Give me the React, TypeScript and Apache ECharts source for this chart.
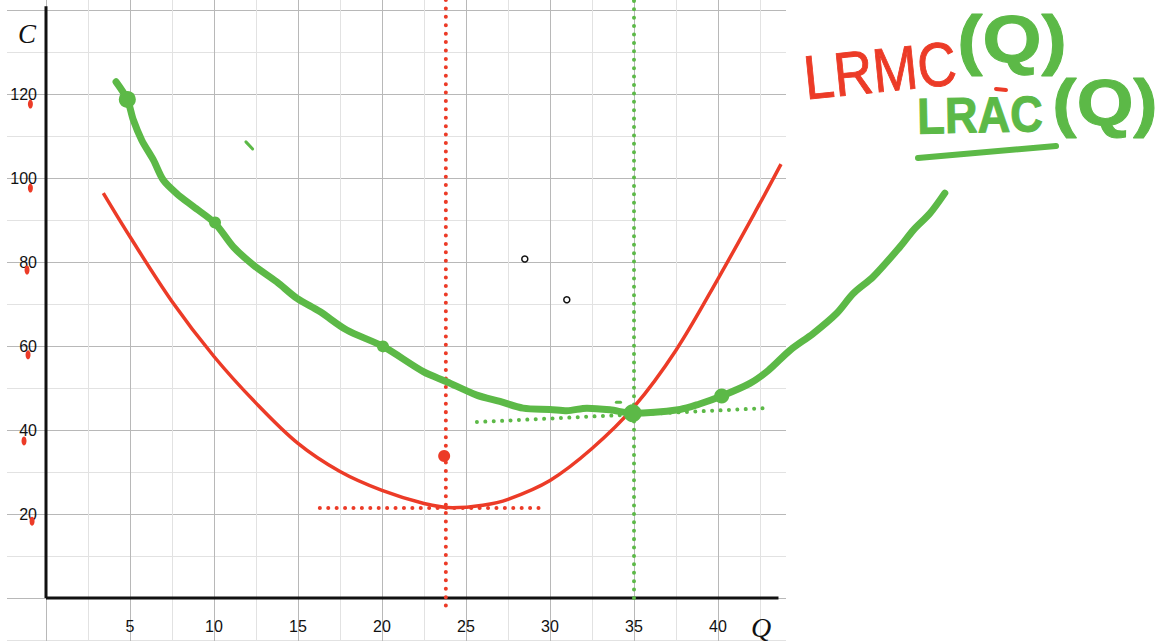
import React, { useEffect, useRef } from 'react';
import * as echarts from 'echarts';

const RED = '#ec3b27';
const GREEN = '#5cb947';

// tick labels
const xTickLabels = [5, 10, 15, 20, 25, 30, 35, 40];
const yTickLabels = [20, 40, 60, 80, 100, 120];

// LRMC(Q) – red curve (Q, C)
const lrmc = [
  [3.41, 96.4], [5, 86.0], [7.5, 70.6], [10, 57.5], [12.5, 46.4], [15, 36.8], [17.5, 30.1],
  [20, 25.6], [22.5, 22.5], [24.2, 21.5], [26, 22.1], [27.5, 23.5], [30, 28.0], [32.5, 35.6],
  [35, 45.5], [37.5, 59], [40, 76], [42.5, 94], [43.75, 103.3],
];

// LRAC(Q) – green hand-drawn curve (Q, C)
const lrac = [
  [4.17, 122.9], [4.84, 118.7], [5.2, 113.8], [5.7, 109], [6.39, 104.3], [6.98, 99.5],
  [7.78, 96.3], [8.77, 93.2], [10.06, 89.2], [11.15, 83.6], [12.34, 79.3], [13.73, 75.3],
  [14.92, 71.4], [16.3, 68.2], [17.9, 63.8], [20.06, 59.9], [22.46, 53.9], [23.85, 51.5],
  [25.64, 48.3], [27.02, 46.8], [28.4, 45.2], [30, 44.9], [31, 44.6], [32.2, 45.2],
  [33.57, 44.8], [34.92, 44], [37.74, 44.9], [38.9, 46.2], [40.22, 48.1], [41.9, 51.1],
  [43.0, 54.2], [44.29, 59], [45.67, 63], [47.07, 67.8], [48.05, 72.5], [49.24, 76.5],
  [50.83, 83.6], [51.63, 87.6], [52.62, 91.6], [53.5, 96.4],
];

// dots on LRAC: Q, C, size
const lracDots = [
  [4.84, 118.7, 17], [10.06, 89.4, 12], [20.06, 59.9, 12], [34.92, 44, 18], [40.22, 48.1, 15],
];
const lrmcDot = [[23.7, 33.8]];
const hollowPoints = [[28.5, 80.7], [31, 71]];
const redTickMarks = [
  [-0.93, 117.6], [-0.93, 97.6], [-1.13, 78.1], [-1.07, 57.9], [-1.31, 37.4], [-0.83, 18.3],
];

// dotted guides
const redVertical = [[23.8, -1.8], [23.8, 143]];
const redFloor = [[16.3, 21.4], [29.46, 21.4]];
const greenVertical = [[35, 0], [35, 143]];
const greenTangent = [[25.65, 41.9], [42.8, 45.2]];

// stray strokes
const greenTick = [[11.9, 108.6], [12.3, 106.9]];
const greenDash = [[33.95, 46.6], [34.2, 46.6]];

// axes lines
const xAxisLine = [[0, 0], [43.6, 0]];
const yAxisLine = [[0, 0], [0, 140.9]];

const dotted = (data: number[][], color: string) => ({
  type: 'line',
  data,
  showSymbol: false,
  silent: true,
  clip: false,
  z: 3,
  lineStyle: { color, width: 4, type: [0.01, 8.4], cap: 'round' },
});

export default function App() {
  const ref = useRef<HTMLDivElement>(null);
  useEffect(() => {
    if (!ref.current) return;
    const chart = echarts.init(ref.current, undefined, { renderer: 'svg' });
    const labelFont = { fontFamily: 'Liberation Sans', fontSize: 16, color: '#111' };
    const center = { align: 'center', verticalAlign: 'middle', textAlign: 'center', textVerticalAlign: 'middle' };
    chart.setOption({
      animation: false,
      backgroundColor: '#fff',
      grid: { left: -38, right: 190, top: -74, bottom: -41, containLabel: false, outerBoundsMode: 'none' },
      xAxis: [
        {
          type: 'value', min: -5, max: 55, interval: 5, position: 'top',
          axisLine: { show: false }, axisTick: { show: false }, axisLabel: { show: false },
          splitLine: { show: true, lineStyle: { color: '#b8b8b8', width: 1 } },
          minorTick: { show: false, splitNumber: 2 },
          minorSplitLine: { show: true, lineStyle: { color: '#e2e2e2', width: 1 } },
        },
        {
          type: 'value', min: -5, max: 55, interval: 5, position: 'bottom', offset: -82,
          axisLine: { show: false }, axisTick: { show: false }, splitLine: { show: false },
          axisLabel: {
            ...labelFont, margin: 18, hideOverlap: false,
            formatter: (v: number) => (xTickLabels.includes(v) ? String(v) : ''),
          },
        },
      ],
      yAxis: [
        {
          type: 'value', min: -20, max: 160, interval: 20, position: 'right',
          axisLine: { show: false }, axisTick: { show: false }, axisLabel: { show: false },
          splitLine: { show: true, lineStyle: { color: '#b8b8b8', width: 1 } },
          minorTick: { show: false, splitNumber: 2 },
          minorSplitLine: { show: true, lineStyle: { color: '#e2e2e2', width: 1 } },
        },
        {
          type: 'value', min: -20, max: 160, interval: 20, position: 'left', offset: -84,
          axisLine: { show: false }, axisTick: { show: false }, splitLine: { show: false },
          axisLabel: {
            ...labelFont, margin: 9, hideOverlap: false,
            formatter: (v: number) => (yTickLabels.includes(v) ? String(v) : ''),
          },
        },
      ],
      graphic: [
        { type: 'rect', z: 1, shape: { x: 786, y: 0, width: 380, height: 641 }, style: { fill: '#fff' }, silent: true },
        { type: 'rect', z: 1, shape: { x: 0, y: 0, width: 7, height: 641 }, style: { fill: '#fff' }, silent: true },
        {
          type: 'text', z: 10, x: 27, y: 34,
          style: { text: 'C', font: 'italic 27px "Liberation Serif"', fill: '#111', ...center },
        },
        {
          type: 'text', z: 10, x: 761, y: 627,
          style: { text: 'Q', font: 'italic 28px "Liberation Serif"', fill: '#111', ...center },
        },
        {
          type: 'text', z: 10, x: 880, y: 70, rotation: 0.1, scaleY: 1.15,
          style: { text: 'LRMC', font: '400 54px "Liberation Sans"', fill: RED, stroke: RED, lineWidth: 0.8, ...center },
        },
        {
          type: 'text', z: 10, x: 1012, y: 39, scaleX: 1.15,
          style: { text: '(Q)', font: 'bold 66px "Liberation Sans"', fill: GREEN, stroke: GREEN, lineWidth: 1, ...center },
        },
        {
          type: 'text', z: 10, x: 980, y: 115, scaleX: 1.13, scaleY: 1.26, rotation: 0.02,
          style: { text: 'LRAC', font: 'bold 40px "Liberation Sans"', fill: GREEN, stroke: GREEN, lineWidth: 0.8, ...center },
        },
        {
          type: 'text', z: 10, x: 1105, y: 103, scaleX: 1.14,
          style: { text: '(Q)', font: 'bold 64px "Liberation Sans"', fill: GREEN, stroke: GREEN, lineWidth: 1, ...center },
        },
        {
          type: 'line', z: 10, shape: { x1: 996, y1: 89, x2: 1006, y2: 90 },
          style: { stroke: RED, lineWidth: 4, lineCap: 'round' },
        },
        {
          type: 'line', z: 10, shape: { x1: 918, y1: 158, x2: 1056, y2: 146 },
          style: { stroke: GREEN, lineWidth: 6, lineCap: 'round' },
        },
      ],
      series: [
        {
          type: 'line', data: xAxisLine, showSymbol: false, silent: true, z: 2,
          lineStyle: { color: '#111', width: 3 },
        },
        {
          type: 'line', data: yAxisLine, showSymbol: false, silent: true, z: 2,
          lineStyle: { color: '#111', width: 3 },
        },
        dotted(redVertical, RED),
        dotted(redFloor, RED),
        dotted(greenVertical, GREEN),
        dotted(greenTangent, GREEN),
        {
          type: 'line', data: lrmc, smooth: 0.34, showSymbol: false, silent: true, clip: false, z: 4,
          lineStyle: { color: RED, width: 3.5 },
        },
        {
          type: 'line', data: lrac, smooth: 0.3, showSymbol: false, silent: true, clip: false, z: 5,
          lineStyle: { color: GREEN, width: 7, cap: 'round', join: 'round' },
        },
        {
          type: 'line', data: greenTick, showSymbol: false, silent: true, z: 5,
          lineStyle: { color: GREEN, width: 3, cap: 'round' },
        },
        {
          type: 'line', data: greenDash, showSymbol: false, silent: true, z: 5,
          lineStyle: { color: GREEN, width: 3, cap: 'round' },
        },
        {
          type: 'scatter', data: lracDots, silent: true, z: 6, clip: false,
          symbolSize: (v: number[]) => v[2],
          itemStyle: { color: GREEN, opacity: 1 },
        },
        {
          type: 'scatter', data: lrmcDot, silent: true, z: 6, symbolSize: 12,
          itemStyle: { color: RED, opacity: 1 },
        },
        {
          type: 'scatter', data: hollowPoints, silent: true, z: 6, symbolSize: 6,
          itemStyle: { color: '#fff', borderColor: '#111', borderWidth: 1.5, opacity: 1 },
        },
        {
          type: 'scatter', data: redTickMarks, silent: true, z: 6, clip: false, symbolSize: [5, 9],
          itemStyle: { color: RED, opacity: 1 },
        },
      ],
    });
    return () => chart.dispose();
  }, []);
  return (
    <div
      ref={ref}
      style={{ position: 'fixed', left: 0, top: 0, width: 1160, height: 641, background: '#fff' }}
    />
  );
}
